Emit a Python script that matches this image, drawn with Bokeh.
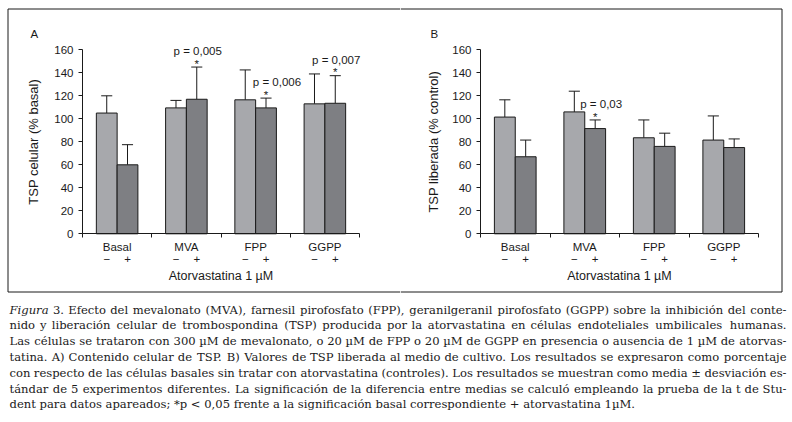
import math
from bokeh.plotting import figure
from bokeh.models import Range1d, FixedTicker, LinearAxis, ColumnDataSource
from bokeh.layouts import row, column
from bokeh.embed import file_html
from bokeh.resources import INLINE
from bokeh.core.properties import value

# ---------------- data ----------------
groups = ["Basal", "MVA", "FPP", "GGPP"]
sub_labels = ["\u2212", "+"]
y_ticks = [0, 20, 40, 60, 80, 100, 120, 140, 160]
x_title = "Atorvastatina 1 µM"

a_minus = [105, 109.5, 116.5, 113]
a_minus_sd = [15, 6.5, 26, 26]
a_plus = [60, 117, 109.5, 113.5]
a_plus_sd = [17.5, 28, 8.5, 24]

b_minus = [101.5, 106, 83.5, 81.5]
b_minus_sd = [15, 18, 15.5, 21]
b_plus = [67, 91.5, 76, 75]
b_plus_sd = [14.5, 7.5, 11.5, 7.5]

a_sig_groups = ["MVA", "FPP", "GGPP"]
a_sig_text = ["p = 0,005", "p = 0,006", "p = 0,007"]
b_sig_groups = ["MVA"]
b_sig_text = ["p = 0,03"]

caption_lines = [
    "Figura 3. Efecto del mevalonato (MVA), farnesil pirofosfato (FPP), geranilgeranil pirofosfato (GGPP) sobre la inhibición del conte-",
    "nido y liberación celular de trombospondina (TSP) producida por la atorvastatina en células endoteliales umbilicales humanas.",
    "Las células se trataron con 300 µM de mevalonato, o 20 µM de FPP o 20 µM de GGPP en presencia o ausencia de 1 µM de atorvas-",
    "tatina. A) Contenido celular de TSP. B) Valores de TSP liberada al medio de cultivo. Los resultados se expresaron como porcentaje",
    "con respecto de las células basales sin tratar con atorvastatina (controles). Los resultados se muestran como media ± desviación es-",
    "tándar de 5 experimentos diferentes. La significación de la diferencia entre medias se calculó empleando la prueba de la t de Stu-",
    "dent para datos apareados; *p < 0,05 frente a la significación basal correspondiente + atorvastatina 1µM.",
]
italic_words = ["Figura"]

# ---------------- styles / layout (page pixels) ----------------
SANS = "Liberation Sans"
SERIF = "DejaVu Serif"
INK = "#1a1a1a"
LIGHT = "#a7a8ac"
DARK = "#7e7f83"
SPAN = 20
HALF_OFF = 3
BAR_W = 6
CAP_HALF = 1.6
FS = "11.5px"
PANEL_H = 294
Y0_PX = 233.3                 # page y of value 0
Y_SCALE = 184.0 / 160.0       # px per unit
BOX_L, BOX_R, BOX_T, BOX_B = 7.5, 781.5, 8.5, 291.5


def panel(letter, ylabel, minus, minus_sd, plus, plus_sd, sig_groups, sig_text, sig_dx,
          fig_x, width, ax0, ax1, left_edge, right_edge, letter_px, ylab_px):
    n = len(groups)
    k = (ax1 - ax0) / (SPAN * n)

    def X(px):
        return (px - ax0) / k

    def Y(py):
        return (Y0_PX - py) / Y_SCALE

    p = figure(width=width, height=PANEL_H,
               x_range=Range1d(X(fig_x), X(fig_x + width)), y_range=Range1d(Y(PANEL_H), Y(0)),
               output_backend="svg", toolbar_location=None,
               x_axis_location=None, y_axis_location=None, min_border=0)
    p.outline_line_color = None
    p.background_fill_color = None
    p.border_fill_color = None
    p.xgrid.grid_line_color = None
    p.ygrid.grid_line_color = None

    # frame box round both panels
    bx0 = X(max(BOX_L, fig_x)) if left_edge else X(fig_x)
    bx1 = X(min(BOX_R, fig_x + width)) if right_edge else X(fig_x + width)
    seg = dict(x0=[bx0, bx0], x1=[bx1, bx1], y0=[Y(BOX_T), Y(BOX_B)], y1=[Y(BOX_T), Y(BOX_B)])
    if left_edge:
        seg["x0"].append(X(BOX_L)); seg["x1"].append(X(BOX_L))
        seg["y0"].append(Y(BOX_T)); seg["y1"].append(Y(BOX_B))
    if right_edge:
        seg["x0"].append(X(BOX_R)); seg["x1"].append(X(BOX_R))
        seg["y0"].append(Y(BOX_T)); seg["y1"].append(Y(BOX_B))
    p.segment(x0="x0", y0="y0", x1="x1", y1="y1", source=ColumnDataSource(seg),
              line_color=INK, line_width=1)

    centers = [SPAN * i + SPAN // 2 for i in range(n)]
    for vals, sds, sign, color in ((minus, minus_sd, -1, LIGHT), (plus, plus_sd, 1, DARK)):
        xs = [c + sign * HALF_OFF for c in centers]
        tops = [v + s for v, s in zip(vals, sds)]
        src = ColumnDataSource(dict(x=xs, v=vals, top=tops,
                                    x0=[x - CAP_HALF for x in xs], x1=[x + CAP_HALF for x in xs]))
        p.segment(x0="x", y0="v", x1="x", y1="top", source=src, line_color=INK, line_width=1)
        p.segment(x0="x0", y0="top", x1="x1", y1="top", source=src, line_color=INK, line_width=1)
        p.vbar(x="x", top="v", bottom=0, width=BAR_W, source=src,
               fill_color=color, line_color=INK, line_width=1)

    idx = [groups.index(g) for g in sig_groups]
    stop = [plus[i] + plus_sd[i] for i in idx]
    ssrc = ColumnDataSource(dict(x=[centers[i] + HALF_OFF for i in idx],
                                 ty=[t + 14 for t in stop], sy=[t + 3 for t in stop],
                                 text=sig_text, star=["*"] * len(idx), dx=sig_dx))
    p.text(x="x", y="ty", text="text", x_offset="dx", source=ssrc, text_align="center",
           text_baseline="middle", text_font=value(SANS), text_font_size=value(FS), text_color=INK)
    p.text(x="x", y="sy", text="star", source=ssrc, text_align="center",
           text_baseline="middle", text_font=value(SANS), text_font_size=value(FS), text_color=INK)

    # axes, fixed at the data origin
    yax = LinearAxis(ticker=FixedTicker(ticks=y_ticks), bounds=(0, 160), fixed_location=0,
                     axis_line_color=INK, major_tick_line_color=INK, major_tick_in=0, major_tick_out=4,
                     minor_tick_line_color=None, major_label_standoff=5,
                     major_label_text_font=SANS, major_label_text_font_size=FS, major_label_text_color=INK)
    p.add_layout(yax, "left")

    xax = LinearAxis(ticker=FixedTicker(ticks=centers, minor_ticks=[SPAN * i for i in range(n + 1)]),
                     major_label_overrides={c: g for c, g in zip(centers, groups)},
                     fixed_location=0, bounds=(0, SPAN * n),
                     axis_line_color=INK, major_tick_line_color=None, major_tick_in=0, major_tick_out=4,
                     minor_tick_line_color=INK, minor_tick_in=0, minor_tick_out=4,
                     major_label_standoff=3,
                     major_label_text_font=SANS, major_label_text_font_size=FS, major_label_text_color=INK)
    p.add_layout(xax, "below")

    sub_x, sub_t = [], []
    for c in centers:
        for sign, lab in zip((-1, 1), sub_labels):
            sub_x.append(c + sign * HALF_OFF)
            sub_t.append(lab)
    xax2 = LinearAxis(ticker=FixedTicker(ticks=sub_x),
                      major_label_overrides={x: t for x, t in zip(sub_x, sub_t)},
                      fixed_location=0, bounds=(0, SPAN * n),
                      axis_line_color=None, major_tick_line_color=None, minor_tick_line_color=None,
                      major_tick_in=0, major_tick_out=0, major_label_standoff=21,
                      major_label_text_font=SANS, major_label_text_font_size=FS, major_label_text_color=INK)
    p.add_layout(xax2, "below")

    # axis titles and panel letter
    p.text(x=[X(ylab_px)], y=[80], text=[ylabel], angle=math.pi / 2, text_align="center",
           text_baseline="middle", text_font=value(SANS), text_font_size=value("13px"), text_color=INK)
    p.text(x=[SPAN * n / 2], y=[Y(275.5)], text=[x_title], text_align="center",
           text_baseline="middle", text_font=value(SANS), text_font_size=value("12.5px"), text_color=INK)
    p.text(x=[X(letter_px)], y=[Y(33)], text=[letter], text_align="left",
           text_baseline="middle", text_font=value(SANS), text_font_size=value(FS), text_color=INK)
    return p


pa = panel("A", "TSP celular (% basal)", a_minus, a_minus_sd, a_plus, a_plus_sd,
           a_sig_groups, a_sig_text, [1, 11, 1],
           fig_x=0, width=400, ax0=82, ax1=359, left_edge=True, right_edge=False,
           letter_px=30, ylab_px=33)
pb = panel("B", "TSP liberada (% control)", b_minus, b_minus_sd, b_plus, b_plus_sd,
           b_sig_groups, b_sig_text, [6],
           fig_x=400, width=390, ax0=480, ax1=758, left_edge=False, right_edge=True,
           letter_px=430, ylab_px=433)

# ---------------- caption ----------------
WID = {' ': 0.318, 'a': 0.596, 'b': 0.640, 'c': 0.560, 'd': 0.640, 'e': 0.592, 'f': 0.370, 'g': 0.640,
       'h': 0.644, 'i': 0.320, 'j': 0.310, 'k': 0.606, 'l': 0.320, 'm': 0.948, 'n': 0.644, 'o': 0.602,
       'p': 0.640, 'q': 0.640, 'r': 0.478, 's': 0.513, 't': 0.402, 'u': 0.644, 'v': 0.565, 'w': 0.856,
       'x': 0.564, 'y': 0.565, 'z': 0.527, '.': 0.318, ',': 0.318, ';': 0.337, ':': 0.337, '(': 0.390,
       ')': 0.390, '-': 0.338, '*': 0.500, '<': 0.838, '+': 0.838, '±': 0.838, 'µ': 0.644,
       'A': 0.724, 'B': 0.732, 'C': 0.747, 'D': 0.798, 'E': 0.730, 'F': 0.686, 'G': 0.799, 'I': 0.402,
       'L': 0.683, 'M': 0.995, 'P': 0.670, 'R': 0.768, 'S': 0.647, 'T': 0.670, 'V': 0.724}
BASE = {'á': 'a', 'é': 'e', 'í': 'i', 'ó': 'o', 'ú': 'u', 'ñ': 'n'}


def em(s):
    tot = 0.0
    for ch in s:
        ch = BASE.get(ch, ch)
        if ch in WID:
            tot += WID[ch]
        elif ch.isdigit():
            tot += 0.636
        elif ch.isupper():
            tot += 0.72
        else:
            tot += 0.58
    return tot


CAP_W, CAP_H = 790, 128
X_L, X_R = 9, 786
LINE_Y0, LINE_DY = 15, 15.8
fs0 = min(623 / em(caption_lines[-1]), 0.985 * (X_R - X_L) / max(em(l) for l in caption_lines[:-1]))
fs = fs0 * 1.02
cap_fs = value("%.2fpx" % fs)

cols = {k: dict(x=[], y=[], text=[]) for k in ("left", "center", "right", "italic")}
for li, line in enumerate(caption_lines[:-1]):
    words = line.split(" ")
    ws = [em(w) for w in words]
    sp = WID[' ']
    total = sum(ws) + sp * (len(words) - 1)
    pre = 0.0
    y = LINE_Y0 + LINE_DY * li
    for k, (w, e) in enumerate(zip(words, ws)):
        if k == 0:
            key = "italic" if w in italic_words else "left"
            xx = X_L
        elif k == len(words) - 1:
            key, xx = "right", X_R
        else:
            key, xx = "center", X_L + (X_R - X_L) * (pre + e / 2) / total
        cols[key]["x"].append(xx)
        cols[key]["y"].append(y)
        cols[key]["text"].append(w)
        pre += e + sp
cols["left"]["x"].append(X_L)
cols["left"]["y"].append(LINE_Y0 + LINE_DY * (len(caption_lines) - 1))
cols["left"]["text"].append(caption_lines[-1])

cf = figure(width=CAP_W, height=CAP_H, x_range=Range1d(0, CAP_W), y_range=Range1d(CAP_H, 0),
            output_backend="svg", toolbar_location=None, x_axis_location=None, y_axis_location=None,
            min_border=0)
cf.outline_line_color = None
cf.background_fill_color = None
cf.border_fill_color = None
cf.xgrid.grid_line_color = None
cf.ygrid.grid_line_color = None
for key, align, style in (("left", "left", "normal"), ("center", "center", "normal"),
                          ("right", "right", "normal"), ("italic", "left", "italic")):
    cf.text(x="x", y="y", text="text", source=ColumnDataSource(cols[key]), text_align=align,
            text_baseline="middle", text_font=value(SERIF), text_font_size=cap_fs,
            text_font_style=style, text_color=INK)

layout = column(row(pa, pb), cf)
open("out.html", "w").write(file_html(layout, INLINE, title="Figura 3"))
